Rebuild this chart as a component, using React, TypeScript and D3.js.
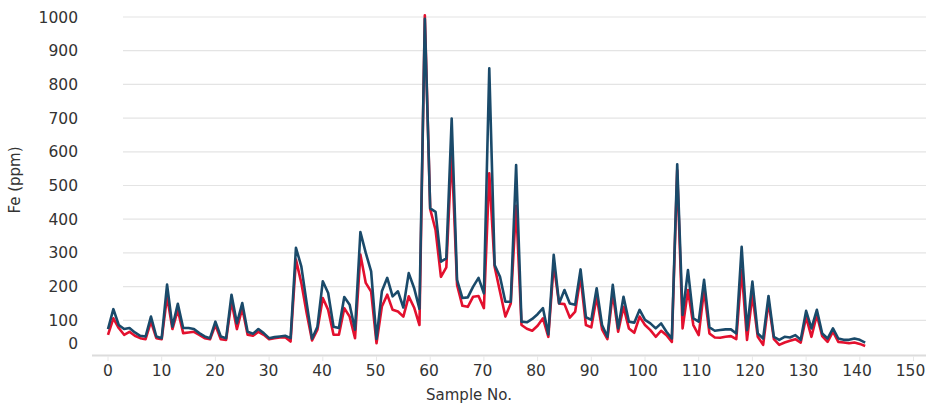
import React, { useEffect } from "react";
import * as d3 from "d3";

const xTicks = [0, 10, 20, 30, 40, 50, 60, 70, 80, 90, 100, 110, 120, 130, 140, 150];
const yTicks = [0, 100, 200, 300, 400, 500, 600, 700, 800, 900, 1000];

const seriesNavy = [
  74, 133, 86, 74, 77, 64, 54, 52, 111, 52, 47, 206, 81, 149, 77, 77, 74, 62, 52, 47,
  96, 52, 47, 176, 91, 151, 66, 60, 74, 62, 47, 50, 52, 54, 47,
  315, 260, 151, 45, 81, 216, 181, 81, 77, 169, 146, 72, 362, 300, 245, 45, 186, 226, 171, 186,
  138, 240, 196, 134,
  995, 432, 422, 274, 284, 699, 220, 166, 168, 200, 226, 180, 848, 264, 229, 155, 155, 561, 96, 94,
  104, 118, 136, 58, 294, 150, 190, 150, 146, 251, 109, 101, 195, 86, 51, 205, 76, 170, 96, 93,
  131, 101, 91, 76, 91, 66, 46, 563, 116, 249, 106, 96, 220, 79, 69, 71, 73, 73, 61, 318,
  71, 215, 61, 46, 172, 51, 42, 51, 49, 56, 42, 128, 76, 131, 61, 46, 76, 46, 42, 42, 46, 42, 34,
];

const seriesRed = [
  57, 106, 77, 57, 66, 54, 47, 44, 96, 47, 44, 171, 74, 131, 62, 64, 66, 57, 47, 44,
  86, 44, 42, 156, 74, 136, 57, 54, 66, 57, 44, 47, 49, 50, 37,
  280, 211, 121, 40, 72, 166, 131, 57, 57, 136, 111, 47, 295, 211, 185, 32, 141, 176, 131, 126,
  111, 171, 138, 86,
  1005, 430, 368, 229, 257, 600, 205, 143, 140, 170, 172, 136, 536, 259, 185, 111, 150, 440, 86, 75,
  69, 84, 106, 51, 265, 150, 148, 108, 126, 229, 86, 79, 170, 73, 44, 180, 66, 140, 76, 63,
  111, 86, 71, 51, 69, 56, 36, 545, 76, 190, 86, 56, 190, 61, 49, 48, 51, 53, 44, 250,
  42, 175, 51, 27, 155, 44, 27, 34, 39, 44, 34, 109, 51, 116, 53, 36, 66, 36, 34, 32, 34, 30, 24,
];

const W = 926;
const H = 403;
const FONT = "'DejaVu Sans', sans-serif";

export default function App() {
  useEffect(() => {
    document.body.style.margin = "0";
  }, []);

  const x = d3.scaleLinear().domain([0, 150]).range([108, 913.5]);
  const y = d3.scaleLinear().domain([0, 1000]).range([354, 17]);

  const line = d3
    .line<number>()
    .x((_, i) => x(i))
    .y((d) => y(d));

  return (
    <svg width={W} height={H} style={{ display: "block", background: "#fff" }}>
      {yTicks
        .filter((t) => t > 0)
        .map((t) => (
          <line key={"g" + t} x1={123} x2={W} y1={y(t)} y2={y(t)} stroke="#e4e4e4" strokeWidth={1.2} />
        ))}
      <line x1={92} x2={W} y1={355.5} y2={355.5} stroke="#dcdcdc" strokeWidth={2} />
      {xTicks.map((t) => (
        <line key={"xt" + t} x1={x(t)} x2={x(t)} y1={356} y2={361} stroke="#e8e8e8" strokeWidth={1} />
      ))}
      <path d={line(seriesRed) || ""} fill="none" stroke="#e3102e" strokeWidth={2.6} strokeLinejoin="round" />
      <path d={line(seriesNavy) || ""} fill="none" stroke="#1a4a6a" strokeWidth={2.6} strokeLinejoin="round" />
      {yTicks.map((t) => (
        <text
          key={"yl" + t}
          x={78}
          y={y(t) + (t === 0 ? -11 : 0)}
          dy="0.36em"
          textAnchor="end"
          fontFamily={FONT}
          fontSize={15.5}
          fill="#333"
        >
          {t}
        </text>
      ))}
      {xTicks.map((t) => (
        <text
          key={"xl" + t}
          x={x(t) - (t / 150) * 3}
          y={376}
          textAnchor="middle"
          fontFamily={FONT}
          fontSize={15.5}
          fill="#333"
        >
          {t}
        </text>
      ))}
      <text
        transform={`translate(20,180) rotate(-90)`}
        textAnchor="middle"
        fontFamily={FONT}
        fontSize={15}
        fill="#333"
      >
        Fe (ppm)
      </text>
      <text x={469} y={400} textAnchor="middle" fontFamily={FONT} fontSize={15} fill="#333">
        Sample No.
      </text>
    </svg>
  );
}
